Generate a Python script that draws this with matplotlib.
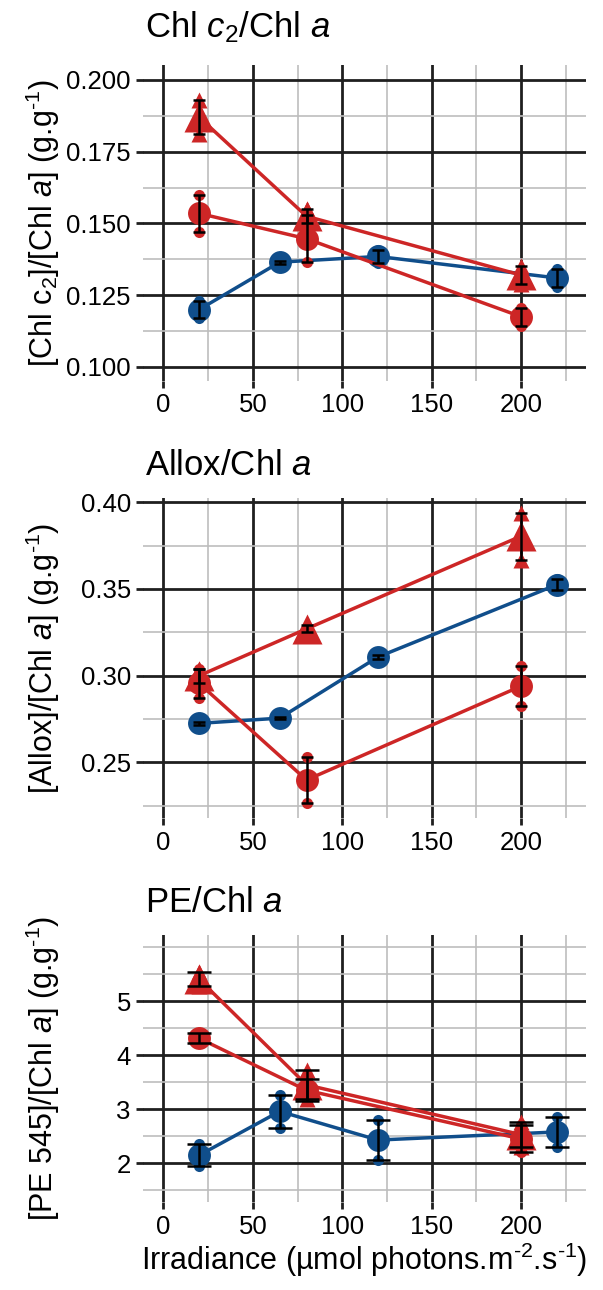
import numpy as np
import matplotlib
matplotlib.use("Agg")
import matplotlib.pyplot as plt

plt.rcParams['font.family'] = ['Liberation Sans', 'DejaVu Sans']
plt.rcParams['mathtext.fontset'] = 'custom'
plt.rcParams['mathtext.rm'] = 'Liberation Sans'
plt.rcParams['mathtext.it'] = 'Liberation Sans:italic'
plt.rcParams['mathtext.default'] = 'regular'

BLUE = '#104E8B'
RED = '#CD2626'

# irradiance levels (umol photons m-2 s-1)
irr_blue = [20, 65, 120, 220]
irr_red = [20, 80, 200]

# replicate measurements, one list of 3 per irradiance level
chl_blue = [[0.117, 0.120, 0.123], [0.136, 0.1365, 0.137],
            [0.1363, 0.1385, 0.1407], [0.128, 0.131, 0.134]]
chl_red_circ = [[0.147, 0.1535, 0.160], [0.1365, 0.1445, 0.153],
                [0.1143, 0.1175, 0.1207]]
chl_red_tri = [[0.181, 0.187, 0.193], [0.150, 0.1525, 0.155],
               [0.129, 0.132, 0.135]]

allox_blue = [[0.2715, 0.2725, 0.2735], [0.275, 0.2755, 0.276],
              [0.3098, 0.3108, 0.3118], [0.3495, 0.3525, 0.3555]]
allox_red_circ = [[0.287, 0.2955, 0.304], [0.2263, 0.240, 0.2532],
                  [0.2825, 0.294, 0.3055]]
allox_red_tri = [[0.296, 0.300, 0.304], [0.325, 0.327, 0.329],
                 [0.367, 0.3805, 0.394]]

pe_blue = [[1.95, 2.15, 2.35], [2.66, 2.96, 3.26],
           [2.06, 2.43, 2.80], [2.30, 2.58, 2.86]]
pe_red_circ = [[4.22, 4.31, 4.40], [3.15, 3.35, 3.55],
               [2.20, 2.45, 2.70]]
pe_red_tri = [[5.27, 5.40, 5.53], [3.18, 3.45, 3.72],
              [2.30, 2.53, 2.76]]

titles = [r'Chl $\mathit{c}_2$/Chl $\mathit{a}$', r'Allox/Chl $\mathit{a}$',
          r'PE/Chl $\mathit{a}$']
ylabels = [r'[Chl c$_2$]/[Chl $\mathit{a}$] (g.g$^{\text{-1}}$)',
           r'[Allox]/[Chl $\mathit{a}$] (g.g$^{\text{-1}}$)',
           r'[PE 545]/[Chl $\mathit{a}$] (g.g$^{\text{-1}}$)']
xlabel = r'Irradiance (µmol photons.m$^{\text{-2}}$.s$^{\text{-1}}$)'

yticks = [[0.100, 0.125, 0.150, 0.175, 0.200],
          [0.25, 0.30, 0.35, 0.40],
          [2, 3, 4, 5]]
yticklabels = [['0.100', '0.125', '0.150', '0.175', '0.200'],
               ['0.25', '0.30', '0.35', '0.40'],
               ['2', '3', '4', '5']]
yminor = [[0.1125, 0.1375, 0.1625, 0.1875],
          [0.225, 0.275, 0.325, 0.375],
          [1.5, 2.5, 3.5, 4.5, 5.5, 6.0]]
ylims = [(0.0951, 0.2052), (0.2179, 0.4023), (1.285, 6.22)]
xticks = [0, 50, 100, 150, 200]
xminor = [25, 75, 125, 175, 225]

W, H = 603, 1290
# panel boxes in pixels: (left, top, right, bottom)
boxes = [(143.3, 65, 586, 381), (143.3, 498.3, 586, 818), (143.3, 935, 586, 1202)]
title_y = [37, 475, 912]
capsizes = [4.0, 4.0, 8.6]

fig = plt.figure(figsize=(W / 100, H / 100), dpi=100)

panels = [(chl_blue, chl_red_circ, chl_red_tri),
          (allox_blue, allox_red_circ, allox_red_tri),
          (pe_blue, pe_red_circ, pe_red_tri)]


def draw_series(ax, xs, reps, color, marker, big, small, cap):
    reps = np.array(reps)
    mean = reps.mean(axis=1)
    sd = reps.std(axis=1, ddof=1)
    ax.plot(xs, mean, color=color, lw=2.5, zorder=3, solid_capstyle='round')
    for x, r in zip(xs, reps):
        ax.plot([x] * len(r), r, ls='none', marker=marker, ms=small,
                color=color, mec='none', zorder=3)
    ax.plot(xs, mean, ls='none', marker=marker, ms=big, color=color,
            mec='none', zorder=3)
    ax.errorbar(xs, mean, yerr=sd, fmt='none', ecolor='black', elinewidth=1.8,
                capsize=cap, capthick=1.8, zorder=5)


for i, (blue, rcirc, rtri) in enumerate(panels):
    l, t, r, b = boxes[i]
    ax = fig.add_axes([l / W, 1 - b / H, (r - l) / W, (b - t) / H])
    ax.set_xlim(-11.25, 236.25)
    ax.set_ylim(*ylims[i])
    for s in ax.spines.values():
        s.set_visible(False)
    ax.set_xticks(xticks)
    ax.set_xticks(xminor, minor=True)
    ax.set_yticks(yticks[i])
    ax.set_yticklabels(yticklabels[i])
    ax.set_yticks(yminor[i], minor=True)
    ax.grid(which='major', color='#1f1f1f', lw=2.0, zorder=0)
    ax.grid(which='minor', color='#bdbdbd', lw=1.2, zorder=0)
    ax.set_axisbelow(True)
    ax.tick_params(which='major', length=5, width=2.0, color='#1f1f1f',
                   labelsize=18.5, labelcolor='black', pad=4)
    ax.tick_params(which='minor', length=0)

    draw_series(ax, irr_blue, blue, BLUE, 'o', 16.5, 8, capsizes[i])
    draw_series(ax, irr_red, rcirc, RED, 'o', 16.5, 8, capsizes[i])
    draw_series(ax, irr_red, rtri, RED, '^', 21, 11, capsizes[i])

    fig.text(145 / W, 1 - title_y[i] / H, titles[i], fontsize=25,
             ha='left', va='baseline')
    fig.text(43 / W, 1 - (t + b) / 2 / H, ylabels[i], fontsize=22,
             rotation=90, ha='center', va='center')

fig.text(364 / W, 1 - 1270 / H, xlabel, fontsize=22, ha='center', va='baseline')

fig.savefig('out.png', dpi=100)
